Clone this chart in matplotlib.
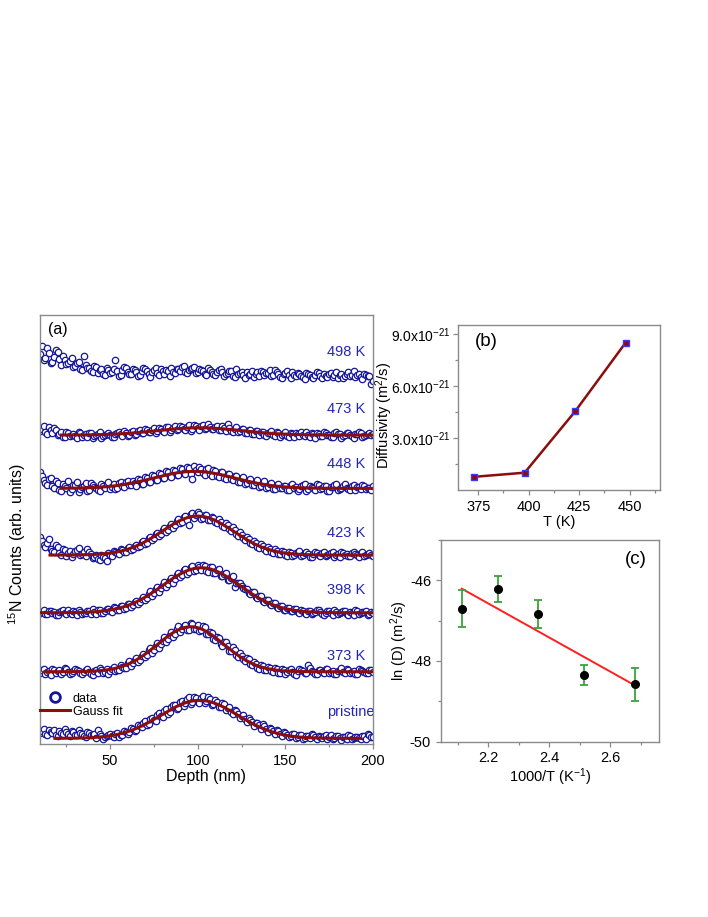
import numpy as np
import matplotlib
matplotlib.use('Agg')
import matplotlib.pyplot as plt
from matplotlib.lines import Line2D
from matplotlib.ticker import MultipleLocator, FixedLocator, FuncFormatter

plt.rcParams['font.family'] = ['Liberation Sans', 'DejaVu Sans']
plt.rcParams['mathtext.fontset'] = 'custom'
plt.rcParams['mathtext.rm'] = 'Liberation Sans'
plt.rcParams['mathtext.it'] = 'Liberation Sans:italic'
plt.rcParams['axes.unicode_minus'] = False

# ---- panel (a): depth profiles (counts in arb. units) ----
depth_odd = np.arange(11, 200, 2)   # nm
depth_even = np.arange(10, 201, 2)  # nm

labels_a = ['pristine', '373 K', '398 K', '423 K', '448 K', '473 K', '498 K']
offsets = [5.7, 72.3, 131.3, 189.0, 255.7, 309.0, 372.0]

# values on the odd-nm grid
counts_pristine = [7, 4, 8, 5, 3, 7, 4, 6, 2, 6, 3, 5, 2, 6, 3, 4, 8, 2, 1, 3,
                   2, 4, 1, 3, 6, 6, 9, 8, 12, 15, 13, 19, 18, 23, 22, 27, 24, 31, 33, 30,
                   37, 35, 41, 36, 40, 35, 42, 37, 39, 34, 36, 31, 34, 30, 26, 28, 24, 22, 19, 20,
                   16, 15, 13, 14, 9, 10, 7, 8, 4, 6, 3, 2, 4, 1, 3, 0, 2, 4, 1, 2,
                   0, 3, 1, -1, 2, 0, 1, -1, 2, 0, 1, -1, 2, 4, 1]
counts_373 = [2, -2, 1, 3, -1, 2, 0, 3, -2, 1, 2, -1, 0, 3, -2, 1, -1, 2, 0, -2,
              3, 1, 2, 5, 4, 11, 9, 14, 12, 18, 17, 24, 22, 29, 28, 35, 33, 40, 38, 46,
              43, 47, 42, 48, 43, 41, 46, 38, 40, 33, 35, 28, 30, 26, 21, 22, 15, 16, 11, 13,
              7, 8, 3, 6, 2, 4, 0, 3, -1, 2, 0, 3, -2, 1, 2, -1, 7, 1, -2, 2,
              0, 3, -1, 1, -2, 2, 0, 3, -1, 1, -2, 2, 0, -1, 2]
counts_398 = [1, -1, 2, 0, -2, 1, 3, -1, 0, 2, -2, 1, 0, 2, -1, 1, 3, 0, 2, 4,
              1, 5, 3, 7, 5, 9, 8, 12, 11, 16, 15, 22, 20, 26, 25, 31, 29, 35, 34, 40,
              38, 44, 41, 47, 43, 46, 48, 42, 46, 40, 43, 37, 39, 33, 35, 26, 30, 27, 24, 20,
              21, 16, 17, 12, 13, 9, 10, 6, 7, 3, 5, 2, 4, 1, 3, 0, 2, -1, 1, 3,
              -1, 0, 2, -2, 1, 0, 2, -1, 1, -2, 2, 0, 1, -2, 1]
counts_423 = [14, 8, 16, 4, 10, 2, 6, -1, 4, 1, 5, 0, 3, 6, 1, -2, -4, 0, -3, 2,
              -1, 3, 1, 5, 3, 8, 6, 10, 9, 14, 12, 18, 17, 22, 21, 27, 25, 31, 30, 36,
              33, 39, 30, 42, 40, 41, 37, 40, 35, 37, 32, 33, 28, 30, 24, 25, 19, 20, 15, 16,
              11, 12, 7, 9, 4, 6, 2, 4, 1, 3, -1, 2, 0, 3, -1, 2, 1, -2, 3, 0,
              2, -1, 1, 3, 0, -2, 2, 1, -1, 3, 0, 2, -1, 1, 0]
counts_448 = [12, 5, 9, 2, 7, -2, 4, 0, -4, 3, 6, -1, 2, -3, 5, 1, -2, 4, 0, 6,
              1, -1, 5, 2, 6, 3, 7, 2, 8, 4, 10, 6, 12, 8, 14, 10, 16, 11, 17, 13,
              19, 14, 20, 9, 18, 21, 15, 19, 14, 18, 12, 16, 10, 14, 9, 12, 6, 10, 4, 8,
              3, 6, 1, 5, 0, 4, -1, 3, 0, 2, -2, 3, 0, -3, 2, 4, -1, 1, -2, 3,
              0, 2, -3, 1, 4, -1, 2, 0, -2, 3, 1, -1, 2, 0, -2]
counts_473 = [6, 3, 8, 2, 5, 1, -2, 3, -1, 1, -3, 2, 0, -2, 2, -1, 1, -3, 0, 2,
              -2, 1, 3, -1, 2, 0, 4, 1, 5, 2, 5, 3, 7, 4, 6, 3, 8, 5, 9, 6,
              8, 5, 10, 6, 9, 5, 10, 7, 8, 6, 9, 5, 7, 11, 4, 6, 3, 6, 2, 5,
              1, 4, 0, 3, -1, 2, 0, 3, -2, 1, -1, 2, -2, 1, 3, -1, 0, 2, -3, 1,
              -1, 2, 0, -2, 3, 1, -1, 2, 0, -3, 1, 2, -1, 1, 0]
counts_498 = [26, 14, 19, 10, 22, 13, 16, 8, 11, 5, 9, 3, 16, 4, 1, 6, -1, 3, -3, 2,
              0, 12, -4, 2, 4, -2, 3, 0, -3, 4, 1, -5, 2, -1, 3, -2, 1, 4, -1, 3,
              5, 0, 2, 4, -1, 3, 1, -3, 2, -2, 0, 3, -4, -1, 1, -5, -2, 0, -6, -3,
              1, -2, -4, 0, -1, 2, -3, 0, -5, -2, 1, -6, -3, -1, -4, -7, -2, -5, -3, -1,
              -6, -4, -2, -5, 0, -3, -6, -2, -4, 1, -3, -5, -2, -4, -12]

# values on the even-nm grid
counts_pristine_even = [5, 9, 3, 6, 8, 2, 5, 9, 4, 7, 3, 8, 4, 1, 5, 3, 0, 4, -1, 2,
                        4, 1, 5, 3, 7, 4, 10, 7, 13, 11, 17, 14, 20, 17, 25, 21, 29, 26, 33, 29,
                        36, 32, 39, 34, 41, 36, 40, 35, 41, 33, 38, 31, 35, 28, 31, 24, 27, 20, 23, 16,
                        18, 12, 15, 9, 12, 6, 9, 4, 7, 2, 5, 1, 4, 0, 3, -1, 2, 0, 3, -1,
                        1, 2, -1, 3, 0, 2, -2, 1, 3, -1, 1, 0, 2, -1, 3, 1]
counts_373_even = [-1, 3, 0, -3, 2, 1, -2, 4, 0, -1, 3, 1, -2, 2, 0, -3, 2, 4, -1, 3,
                   1, 5, 2, 7, 4, 9, 6, 12, 10, 16, 15, 22, 19, 26, 24, 31, 30, 37, 35, 43,
                   40, 46, 42, 49, 43, 47, 42, 45, 38, 39, 32, 34, 26, 30, 21, 25, 17, 19, 13, 14,
                   8, 10, 4, 7, 2, 5, 1, 4, -1, 3, -2, 2, 0, -3, 3, 1, -1, 4, 0, -2,
                   2, -1, 3, 0, -2, 1, 4, -1, 2, 0, -2, 3, 1, -1, 2, 0]
counts_398_even = [0, 3, -1, 2, 1, -2, 2, 0, 3, -1, 1, 3, -1, 0, 2, 4, -1, 3, 0, 4,
                   2, 6, 3, 7, 4, 9, 6, 11, 9, 14, 13, 19, 17, 24, 21, 28, 26, 33, 30, 38,
                   36, 43, 39, 46, 42, 48, 43, 47, 41, 46, 40, 44, 37, 40, 33, 37, 30, 30, 25, 24,
                   19, 21, 15, 17, 11, 13, 8, 10, 5, 7, 3, 5, 2, 4, 0, 2, -1, 2, 0, 3,
                   1, -2, 2, 0, 3, -1, 1, 2, -2, 0, 3, -1, 1, 2, -1, 0]
counts_423_even = [18, 10, 12, 6, 3, 8, 0, 5, 2, -2, 4, 7, 1, -1, 3, -3, 0, -5, -2, -6,
                   0, 4, 2, 6, 3, 7, 5, 9, 8, 13, 11, 17, 15, 21, 19, 25, 23, 29, 27, 34,
                   32, 38, 35, 41, 37, 43, 36, 40, 35, 38, 33, 36, 29, 32, 26, 28, 21, 23, 17, 18,
                   12, 14, 8, 11, 6, 8, 3, 6, 1, 4, 0, 3, -1, 2, 4, 0, 3, -2, 1, 2,
                   -1, 3, 0, 2, -2, 1, 3, 0, -1, 2, 1, -2, 3, 0, 2, -1]
counts_448_even = [16, 8, 3, 10, 0, 5, -3, 2, 7, -1, 3, -4, 1, 5, -2, 3, 0, -3, 2, 4,
                   -1, 4, 0, 6, 1, 7, 3, 5, 9, 4, 11, 6, 13, 8, 15, 10, 17, 12, 18, 13,
                   20, 15, 21, 14, 22, 16, 19, 13, 20, 12, 17, 11, 16, 9, 14, 8, 12, 6, 11, 5,
                   9, 3, 8, 2, 7, 1, 5, -1, 4, 0, 2, -2, 4, 1, -1, 3, -3, 2, 0, 4,
                   -1, 2, -3, 1, 3, -2, 0, 4, -1, 2, -2, 1, 3, -1, 0, 2]
counts_473_even = [4, 9, 1, 5, 7, 0, 3, -2, 2, 0, -1, 3, -2, 1, 2, -3, 0, 3, -1, 1,
                   0, -2, 2, 1, 4, -1, 3, 0, 4, 2, 6, 3, 5, 2, 7, 4, 8, 3, 7, 5,
                   9, 6, 8, 4, 10, 7, 9, 6, 11, 6, 8, 5, 9, 4, 7, 3, 8, 4, 6, 2,
                   5, 1, 4, 3, 0, 2, 4, -1, 2, 0, 3, -2, 1, 2, -1, 0, 3, -2, 1, 2,
                   -1, 3, 0, -2, 2, 1, -3, 0, 2, -1, 1, 3, -2, 0, 2, 1]
counts_498_even = [18, 12, 24, 9, 15, 20, 7, 12, 9, 14, 6, 10, 2, 7, 4, 0, 5, 2, -2, 4,
                   -1, 3, 1, -3, 5, 0, -2, 2, -4, 1, 3, -2, 0, 4, -3, 1, 2, -4, 0, 3,
                   1, 6, -1, 3, 5, 0, 2, -2, 4, 0, -3, 2, 0, -2, 1, -4, 3, -1, -3, 0,
                   -2, -5, 0, 1, -3, -1, -4, 2, -2, -6, -1, -3, 0, -4, -2, -5, -1, -3, -6, 0,
                   -4, -2, -5, -1, -3, -6, -2, -4, 0, -3, -5, -2, -7, -3, -4, -9]

counts_odd = [counts_pristine, counts_373, counts_398, counts_423,
              counts_448, counts_473, counts_498]
counts_even = [counts_pristine_even, counts_373_even, counts_398_even, counts_423_even,
               counts_448_even, counts_473_even, counts_498_even]

# Gauss fit parameters (no fit for 498 K)
fit_center = [101, 96, 102, 100, 98, 101]
fit_sigma = [22, 19, 22, 20.5, 23.3, 24]
fit_amp = [38, 45, 45, 39, 17, 7.3]
fit_start = [18.5, 12.8, 10, 15.7, 22.3, 22.3]
fit_end = [193, 200, 200, 200, 200, 200]

label_y = [0.075, 0.206, 0.359, 0.491, 0.652, 0.781, 0.914]

# ---- panel (b): diffusivity vs T ----
T_b = [373, 398, 423, 448]
D_b = [0.76e-21, 1.0e-21, 4.55e-21, 8.53e-21]

# ---- panel (c): Arrhenius plot ----
invT = [2.114, 2.232, 2.364, 2.513, 2.681]
lnD = [-46.70, -46.22, -46.84, -48.35, -48.58]
lnD_err = [0.45, 0.33, 0.35, 0.24, 0.40]

navy = '#15159a'
txtblue = '#2424b8'
darkred = '#8b0d0d'
frame = '#8a8a8a'


def style_frame(ax):
    for s in ax.spines.values():
        s.set_color(frame)
        s.set_linewidth(1.0)
    ax.tick_params(which='both', direction='out', color=frame, labelsize=10.5,
                   top=False, right=False)
    ax.tick_params(which='major', length=3.5, width=0.9)
    ax.tick_params(which='minor', length=2.2, width=0.9)


fig = plt.figure(figsize=(7.08, 9.17), dpi=100)

# (a)
ax_a = fig.add_axes([0.0565, 0.1886, 0.4703, 0.4678])
for i, lab in enumerate(labels_a):
    xs = np.concatenate([depth_odd, depth_even])
    ys = np.concatenate([counts_odd[i], counts_even[i]]) + offsets[i]
    order = np.argsort(xs)
    ax_a.plot(xs[order], ys[order], 'o', ms=4.6, mfc='white', mec=navy, mew=0.9,
              zorder=2, clip_on=True)
    if i < len(fit_center):
        xf = np.linspace(fit_start[i], fit_end[i], 300)
        yf = offsets[i] + fit_amp[i] * np.exp(-(xf - fit_center[i]) ** 2 / (2 * fit_sigma[i] ** 2))
        ax_a.plot(xf, yf, color=darkred, lw=2.2, zorder=3)
    ha_x = 1.006 if lab == 'pristine' else 0.976
    ax_a.text(ha_x, label_y[i], lab, transform=ax_a.transAxes, ha='right', va='center',
              color=txtblue, fontsize=10.5, clip_on=True)

ax_a.set_xlim(10, 200)
ax_a.set_ylim(0, 429)
style_frame(ax_a)
ax_a.set_yticks([])
ax_a.xaxis.set_major_locator(MultipleLocator(50))
ax_a.xaxis.set_minor_locator(MultipleLocator(25))
ax_a.set_xlabel('Depth (nm)', fontsize=11.5, labelpad=1)
ax_a.set_ylabel('$^{15}$N Counts (arb. units)', fontsize=11.5)
ax_a.yaxis.set_label_coords(-0.036, 0.466)
ax_a.text(0.024, 0.985, '(a)', transform=ax_a.transAxes, ha='left', va='top', fontsize=11.5)

handles = [Line2D([], [], ls='none', marker='o', ms=7, mfc='white', mec=navy, mew=2.0),
           Line2D([], [], color=darkred, lw=2.2)]
ax_a.legend(handles, ['data', 'Gauss fit'], loc='upper left', bbox_to_anchor=(0.0, 0.12),
            frameon=False, fontsize=9, handlelength=2.4, handletextpad=0.2,
            borderpad=0, borderaxespad=0, labelspacing=0.1)

# (b)
ax_b = fig.add_axes([0.6469, 0.4657, 0.2853, 0.1799])
ax_b.plot(T_b, D_b, '-s', color=darkred, lw=1.8, ms=4.5, mfc=darkred, mec='#3a3aff', mew=1.0)
ax_b.set_xlim(365, 465)
ax_b.set_ylim(0, 9.55e-21)
style_frame(ax_b)
ax_b.xaxis.set_major_locator(MultipleLocator(25))
ax_b.xaxis.set_minor_locator(MultipleLocator(12.5))
ax_b.yaxis.set_major_locator(FixedLocator([3e-21, 6e-21, 9e-21]))
ax_b.yaxis.set_minor_locator(FixedLocator([1.5e-21, 4.5e-21, 7.5e-21]))
ax_b.yaxis.set_major_formatter(FuncFormatter(lambda v, p: '%.1fx10$^{-21}$' % (v / 1e-21)))
ax_b.tick_params(axis='y', labelsize=10, pad=1.5)
ax_b.set_xlabel('T (K)', fontsize=10.5, labelpad=1)
ax_b.set_ylabel('Diffusivity (m$^2$/s)', fontsize=10.5)
ax_b.yaxis.set_label_coords(-0.312, 0.45)
ax_b.text(0.084, 0.95, '(b)', transform=ax_b.transAxes, ha='left', va='top', fontsize=13.5)

# (c)
ax_c = fig.add_axes([0.6225, 0.1912, 0.3088, 0.22])
ax_c.errorbar(invT, lnD, yerr=lnD_err, fmt='o', color='black', ms=5.5,
              ecolor='#3aa33a', elinewidth=1.3, capsize=3.2, capthick=1.3, zorder=3)
k, b0 = np.polyfit(invT, lnD, 1)
xl = np.array([invT[0], invT[-1]])
ax_c.plot(xl, k * xl + b0, color='#ff1e1e', lw=1.4, zorder=2)
ax_c.set_xlim(2.045, 2.76)
ax_c.set_ylim(-50, -45)
style_frame(ax_c)
ax_c.xaxis.set_major_locator(MultipleLocator(0.2))
ax_c.xaxis.set_minor_locator(MultipleLocator(0.1))
ax_c.yaxis.set_major_locator(MultipleLocator(2))
ax_c.yaxis.set_minor_locator(MultipleLocator(1))
ax_c.xaxis.set_major_formatter(FuncFormatter(lambda v, p: '%.1f' % v))
ax_c.set_xlabel('1000/T (K$^{-1}$)', fontsize=10.5, labelpad=1)
ax_c.set_ylabel('ln (D) (m$^2$/s)', fontsize=10.5)
ax_c.yaxis.set_label_coords(-0.14, 0.5)
ax_c.text(0.944, 0.945, '(c)', transform=ax_c.transAxes, ha='right', va='top', fontsize=13.5)

fig.savefig('out.png', dpi=100)
